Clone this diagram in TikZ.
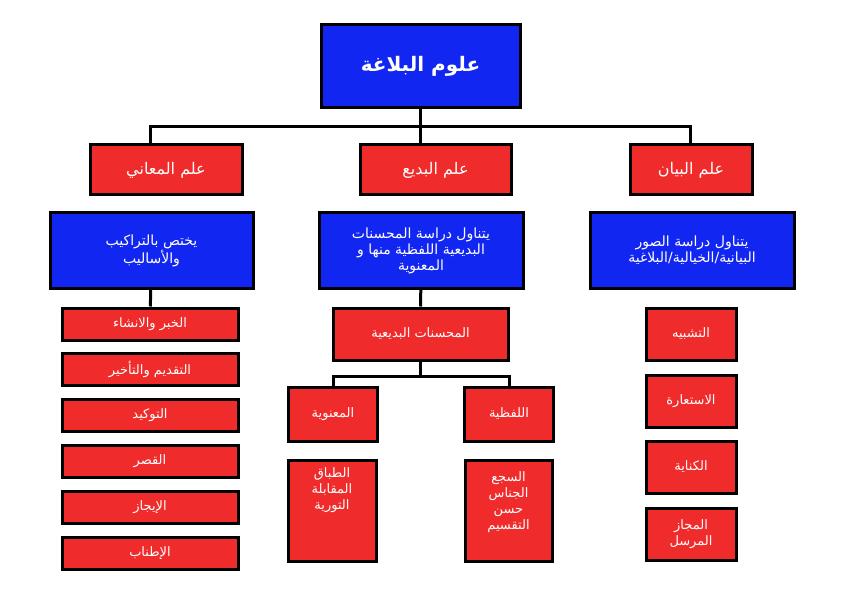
\documentclass[tikz,border=0pt]{standalone}
\usepackage{fontspec}
\newfontfamily\arabicfont[Script=Arabic]{DejaVu Sans}
\TeXXeTstate=1
\newcommand{\ar}[1]{\arabicfont\beginR #1\endR}
\definecolor{boxred}{HTML}{F02B2B}
\definecolor{boxblue}{HTML}{1226F2}
\begin{document}
\begin{tikzpicture}[x=1pt,y=-1pt,
  box/.style = {draw=black,line width=3pt,text=white,align=center,inner sep=2pt,font=\fontsize{13}{16}\selectfont},
  redbox/.style = {box,fill=boxred},
  bluebox/.style = {box,fill=boxblue},
  link/.style = {line width=3pt}]
    \useasboundingbox (0,0) rectangle (843,596);
    % top
    \node[bluebox,minimum width=199,minimum height=83,font=\fontsize{20}{24}\selectfont\bfseries] (root) at (420.5,66.5) {\ar{علوم البلاغة}};
    \node[redbox,minimum width=152,minimum height=50,font=\fontsize{16}{19}\selectfont] (maani) at (166,170) {\ar{علم المعاني}};
    \node[redbox,minimum width=151,minimum height=50,font=\fontsize{16}{19}\selectfont] (badi) at (435.5,170) {\ar{علم البديع}};
    \node[redbox,minimum width=122,minimum height=50,font=\fontsize{16}{19}\selectfont] (bayan) at (691,170) {\ar{علم البيان}};
    \coordinate (bar) at (420.5,127);
    \draw[link] (root) -- (bar);
    \draw[link] (maani.north -| 150,0) |- (bar) -| (bayan.north -| 690,0);
    \draw[link] (bar) -- (badi.north -| 420.5,0);

    % descriptions
    \node[bluebox,minimum width=203,minimum height=75,font=\fontsize{14}{16}\selectfont] (dmaani) at (151.5,250.5) {\ar{يختص بالتراكيب}\\\ar{والأساليب}};
    \node[bluebox,minimum width=204,minimum height=75,font=\fontsize{14}{16}\selectfont] (dbadi) at (421,250.5) {\ar{يتناول دراسة المحسنات}\\\ar{البديعية اللفظية منها و}\\\ar{المعنوية}};
    \node[bluebox,minimum width=204,minimum height=75,font=\fontsize{14}{16}\selectfont] (dbayan) at (692,250.5) {\ar{يتناول دراسة الصور}\\\ar{البيانية/الخيالية/البلاغية}};

    % left list
    \foreach \y/\t [count=\i] in {324/{الخبر والانشاء},369/{التقديم والتأخير},415/{التوكيد},461/{القصر},507/{الإيجاز},553/{الإطناب}}
        \node[redbox,minimum width=176,minimum height=32] (m\i) at (150,\y) {\ar{\t}};
    \draw[link] (dmaani) -- (m1);

    % middle
    \node[redbox,minimum width=175,minimum height=52] (muh) at (420.5,334) {\ar{المحسنات البديعية}};
    \draw[link] (dbadi) -- (muh);
    \node[redbox,minimum width=89,minimum height=54] (mana) at (333,414) {\ar{المعنوية}};
    \node[redbox,minimum width=89,minimum height=54] (lafz) at (509,414) {\ar{اللفظية}};
    \coordinate (split) at (420.5,376);
    \draw[link] (muh) -- (split);
    \draw[link] (mana) |- (split) -| (lafz);
    \node[redbox,minimum width=88,minimum height=101,anchor=north] (lmana) at (332,459) {\ar{الطباق}\\\ar{المقابلة}\\\ar{التورية}\\[28pt]};
    \node[redbox,minimum width=87,minimum height=101,anchor=north] (llafz) at (508.5,459) {\ar{السجع}\\\ar{الجناس}\\\ar{حسن}\\\ar{التقسيم}\\[4pt]};

    % right list
    \node[redbox,minimum width=90,minimum height=52] (b1) at (691,334) {\ar{التشبيه}};
    \node[redbox,minimum width=90,minimum height=52] (b2) at (691,401) {\ar{الاستعارة}};
    \node[redbox,minimum width=90,minimum height=52] (b3) at (691,467) {\ar{الكناية}};
    \node[redbox,minimum width=90,minimum height=52] (b4) at (691,534) {\ar{المجاز}\\\ar{المرسل}};
\end{tikzpicture}
\end{document}
